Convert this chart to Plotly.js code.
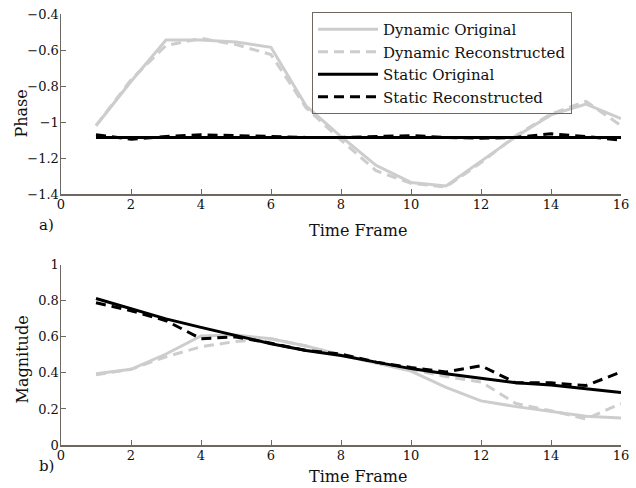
<!DOCTYPE html>
<html>
<head>
<meta charset="utf-8">
<script src="https://cdn.plot.ly/plotly-3.0.1.min.js"></script>
<style>html,body{margin:0;padding:0;background:#fff}#chart{width:636px;height:488px}</style>
</head>
<body>
<div id="chart"></div>
<script>
const frames = [1,2,3,4,5,6,7,8,9,10,11,12,13,14,15,16];
const seriesNames = ["Dynamic Original","Dynamic Reconstructed","Static Original","Static Reconstructed"];

const phaseDynOrig  = [-1.02,-0.775,-0.545,-0.545,-0.555,-0.585,-0.91,-1.08,-1.24,-1.335,-1.355,-1.215,-1.08,-0.96,-0.9,-0.98];
const phaseDynRec   = [-1.02,-0.765,-0.575,-0.535,-0.57,-0.625,-0.92,-1.1,-1.27,-1.34,-1.36,-1.225,-1.075,-0.955,-0.885,-1.02];
const phaseStatOrig = [-1.085,-1.085,-1.085,-1.085,-1.085,-1.085,-1.085,-1.085,-1.085,-1.085,-1.085,-1.085,-1.085,-1.085,-1.085,-1.085];
const phaseStatRec  = [-1.07,-1.095,-1.08,-1.07,-1.075,-1.08,-1.085,-1.085,-1.08,-1.075,-1.085,-1.09,-1.085,-1.065,-1.08,-1.1];

const magDynOrig  = [0.395,0.42,0.505,0.605,0.61,0.59,0.55,0.5,0.455,0.41,0.32,0.245,0.213,0.186,0.16,0.15];
const magDynRec   = [0.39,0.42,0.49,0.545,0.575,0.59,0.55,0.5,0.455,0.42,0.38,0.35,0.23,0.19,0.145,0.23];
const magStatOrig = [0.813,0.755,0.70,0.653,0.607,0.562,0.525,0.497,0.46,0.424,0.395,0.369,0.345,0.333,0.313,0.292];
const magStatRec  = [0.79,0.745,0.69,0.59,0.6,0.565,0.525,0.505,0.46,0.43,0.405,0.44,0.345,0.345,0.33,0.405];

const xTicks = [0,2,4,6,8,10,12,14,16];
const phaseTicks = [-1.4,-1.2,-1,-0.8,-0.6,-0.4];
const magTicks = [0,0.2,0.4,0.6,0.8,1];

const gray = "#cdcdcd";
const styles = [
  {color: gray, width: 3, dash: "solid"},
  {color: gray, width: 3, dash: "10px,6px"},
  {color: "#000", width: 3, dash: "solid"},
  {color: "#000", width: 3, dash: "10px,6px"}
];

const topData = [phaseDynOrig, phaseDynRec, phaseStatOrig, phaseStatRec];
const botData = [magDynOrig, magDynRec, magStatOrig, magStatRec];

const traces = [];
topData.forEach((d, i) => traces.push({x: frames, y: d, mode: "lines", name: seriesNames[i],
  line: styles[i], xaxis: "x", yaxis: "y", showlegend: true}));
botData.forEach((d, i) => traces.push({x: frames, y: d, mode: "lines", name: seriesNames[i],
  line: styles[i], xaxis: "x2", yaxis: "y2", showlegend: false}));

const serif = "DejaVu Serif";
const axisColor = "#6e6862";
const baseAxis = {showline: true, linecolor: axisColor, linewidth: 1.5, ticks: "inside", ticklen: 5,
  tickcolor: axisColor, showgrid: false, zeroline: false, mirror: false,
  ticklabelstandoff: -2,
  tickfont: {family: serif, size: 13, color: "#111"}};

const H = 433, B = 445;
const py = p => (B - p) / H;
const px = p => (p - 61) / 560;

const layout = {
  width: 636, height: 488,
  margin: {l: 61, r: 15, t: 12, b: 43},
  paper_bgcolor: "#fff", plot_bgcolor: "#fff",
  font: {family: serif, color: "#111"},
  showlegend: true,
  legend: {x: px(312), y: py(10), xanchor: "left", yanchor: "top", bordercolor: axisColor, borderwidth: 1,
    bgcolor: "rgba(255,255,255,0)", font: {family: serif, size: 15, color: "#111"},
    tracegroupgap: 0, itemwidth: 60},
  xaxis: Object.assign({}, baseAxis, {domain: [0, 1], range: [0, 16], tickvals: xTicks, anchor: "y"}),
  yaxis: Object.assign({}, baseAxis, {domain: [py(193), 1], range: [-1.4, -0.4], tickvals: phaseTicks, anchor: "x"}),
  xaxis2: Object.assign({}, baseAxis, {domain: [0, 1], range: [0, 16], tickvals: xTicks, anchor: "y2"}),
  yaxis2: Object.assign({}, baseAxis, {domain: [0, py(264)], range: [0, 1], tickvals: magTicks, anchor: "x2"}),
  annotations: [
    {text: "Time Frame", xref: "paper", yref: "paper", x: px(358), y: py(230), xanchor: "center", yanchor: "middle", showarrow: false, font: {family: serif, size: 16}},
    {text: "Time Frame", xref: "paper", yref: "paper", x: px(358), y: py(477), xanchor: "center", yanchor: "middle", showarrow: false, font: {family: serif, size: 16}},
    {text: "Phase", xref: "paper", yref: "paper", x: px(22), y: py(112), xanchor: "center", yanchor: "middle", textangle: -90, showarrow: false, font: {family: serif, size: 16}},
    {text: "Magnitude", xref: "paper", yref: "paper", x: px(22), y: py(359), xanchor: "center", yanchor: "middle", textangle: -90, showarrow: false, font: {family: serif, size: 16}},
    {text: "a)", xref: "paper", yref: "paper", x: px(46), y: py(224), xanchor: "center", yanchor: "middle", showarrow: false, font: {family: serif, size: 15}},
    {text: "b)", xref: "paper", yref: "paper", x: px(46), y: py(466), xanchor: "center", yanchor: "middle", showarrow: false, font: {family: serif, size: 15}}
  ]
};

Plotly.newPlot("chart", traces, layout, {displayModeBar: false, staticPlot: true});
</script>
</body>
</html>
